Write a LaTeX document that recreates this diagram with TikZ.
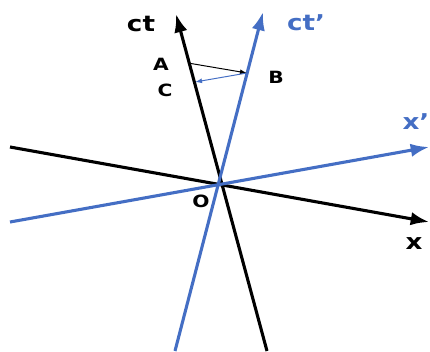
\documentclass[tikz,border=0pt]{standalone}
\usepackage{fontspec}
\setmainfont[FakeStretch=1.2]{DejaVu Sans}
\usepackage{xcolor}
\usepackage{tikz}
\usetikzlibrary{arrows.meta}

\definecolor{primeblue}{RGB}{68,110,196}
\newcommand{\pr}{\char"0027}

\begin{document}
\begin{tikzpicture}[
  x=0.025cm, y=-0.025cm,
  >=Latex,
  axis/.style={line width=2.2pt, -{Latex[length=13pt, width=9.5pt]}},
  signal/.style={line width=0.7pt, -{Latex[length=5pt, width=3.5pt]}},
  axislabel/.style={font=\fontsize{15.5}{15.5}\selectfont\bfseries, inner sep=0pt},
  ptlabel/.style={font=\fontsize{12}{12}\selectfont\bfseries, inner sep=0pt},
]
\useasboundingbox (0,0) rectangle (430,351);

% Axis ends
\coordinate (O)   at (220,183);
\coordinate (ctS) at (267,351);
\coordinate (ctE) at (176,14);
\coordinate (xS)  at (10,147);
\coordinate (xE)  at (429,222);
\coordinate (cpS) at (175,351);
\coordinate (cpE) at (263,12);
\coordinate (xpS) at (10,222);
\coordinate (xpE) at (429,147);

% Rest frame (black)
\draw[axis] (ctS) -- (ctE);
\draw[axis] (xS) -- (xE);

% Moving frame (blue)
\draw[axis, primeblue] (cpS) -- (cpE);
\draw[axis, primeblue] (xpS) -- (xpE);

% Light signal A -> B -> C
\coordinate (A) at (188,63);
\coordinate (B) at (247,73);
\coordinate (C) at (195,82);
\draw[signal] (A) -- (B);
\draw[signal, primeblue] (B) -- (C);

% Labels
\node[axislabel] (lct)  at (141,24) {ct};
\node[axislabel, text=primeblue] (lctp) at (306,23) {ct\pr};
\node[axislabel, text=primeblue] (lxp)  at (416,122) {x\pr};
\node[axislabel] (lx)   at (414,244) {x};
\node[ptlabel] (lA) at (161,64) {A};
\node[ptlabel] (lB) at (276,77) {B};
\node[ptlabel] (lC) at (165,90) {C};
\node[ptlabel] (lO) at (201,201) {O};
\end{tikzpicture}
\end{document}
